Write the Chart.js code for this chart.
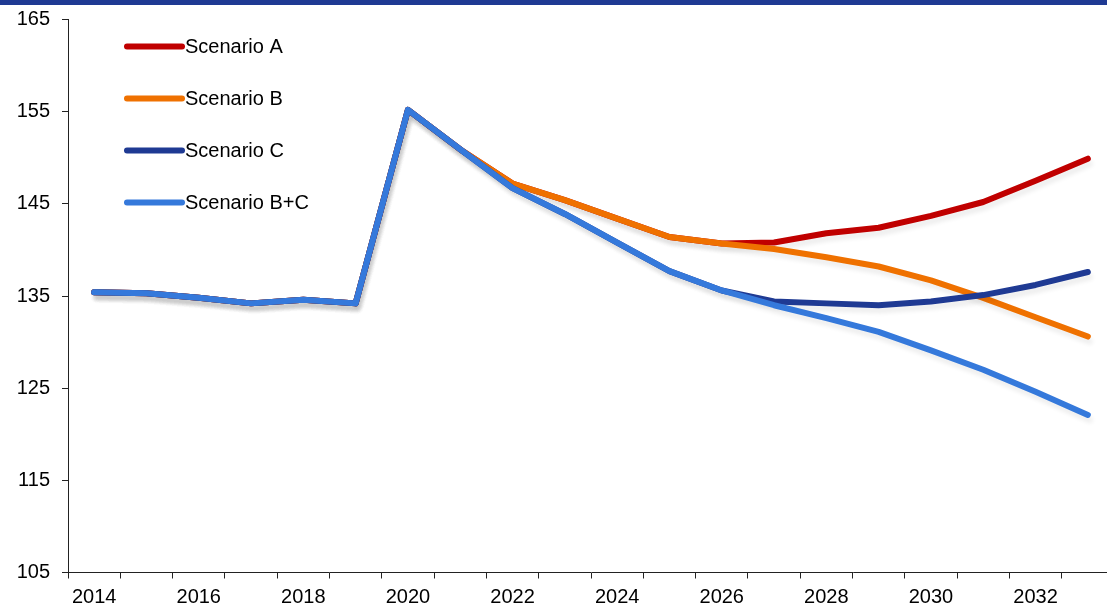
<!DOCTYPE html>
<html>
<head>
<meta charset="utf-8">
<script src="https://cdn.jsdelivr.net/npm/chart.js@4.4.1/dist/chart.umd.min.js"></script>
<style>
  html, body { margin: 0; padding: 0; background: #fff; overflow: hidden; }
  #topbar { position: absolute; left: 0; top: 0; width: 1107px; height: 5px; background: #1f3a93; z-index: 2; }
  #wrap { position: absolute; left: 0; top: 0; width: 1114px; height: 607px; }
</style>
</head>
<body>
<div id="topbar"></div>
<div id="wrap"><canvas id="myChart"></canvas></div>
<script>
const years = ["2014", "2015", "2016", "2017", "2018", "2019", "2020", "2021", "2022", "2023",
  "2024", "2025", "2026", "2027", "2028", "2029", "2030", "2031", "2032", "2033"];

// history shared by every scenario (2014-2021)
const history = [135.4, 135.3, 134.8, 134.2, 134.6, 134.2, 155.2, 150.9];

// projections 2022-2033
const scenarioA = [147.2, 145.4, 143.4, 141.4, 140.7, 140.8, 141.8, 142.4, 143.7, 145.2, 147.5, 149.9];
const scenarioB = [147.2, 145.4, 143.4, 141.4, 140.7, 140.1, 139.2, 138.2, 136.7, 134.8, 132.7, 130.6];
const scenarioC = [146.7, 143.9, 140.8, 137.7, 135.6, 134.4, 134.2, 134.0, 134.4, 135.1, 136.2, 137.6];
const scenarioBC = [146.7, 143.9, 140.8, 137.7, 135.6, 134.0, 132.6, 131.1, 129.1, 127.0, 124.6, 122.1];

const yTicks = [105, 115, 125, 135, 145, 155, 165];

const FONT = "'Liberation Sans', Arial, sans-serif";

// order: lower numbers are painted last (on top)
function series(label, values, color, order) {
  return {
    label: label,
    data: history.concat(values),
    borderColor: color,
    backgroundColor: color,
    borderWidth: 6,
    borderCapStyle: "round",
    borderJoinStyle: "round",
    pointRadius: 0,
    tension: 0,
    order: order,
  };
}

// light drop shadow under the lines
const lineShadow = {
  id: "lineShadow",
  beforeDatasetsDraw(chart) {
    const c = chart.ctx;
    c.save();
    c.shadowColor = "rgba(0,0,0,0.07)";
    c.shadowBlur = 4;
    c.shadowOffsetX = 2;
    c.shadowOffsetY = 5;
  },
  afterDatasetsDraw(chart) {
    chart.ctx.restore();
  },
};

// stacked legend drawn inside the plot
const sideLegend = {
  id: "sideLegend",
  afterDraw(chart) {
    const c = chart.ctx;
    const left = chart.chartArea.left + 59;
    let y = 46.5;
    c.save();
    chart.data.datasets.forEach((ds) => {
      c.beginPath();
      c.lineCap = "round";
      c.lineWidth = 6;
      c.strokeStyle = ds.borderColor;
      c.moveTo(left, y);
      c.lineTo(left + 55, y);
      c.stroke();
      c.fillStyle = "#000";
      c.font = "20px " + FONT;
      c.textAlign = "left";
      c.textBaseline = "middle";
      c.fillText(ds.label, left + 58, y + 1);
      y += 52;
    });
    c.restore();
  },
};

const ctx = document.getElementById("myChart");

new Chart(ctx, {
  type: "line",
  data: {
    labels: years,
    datasets: [
      series("Scenario A", scenarioA, "#c00000", 3),
      series("Scenario B", scenarioB, "#ef7100", 2),
      series("Scenario C", scenarioC, "#1f3a93", 1),
      series("Scenario B+C", scenarioBC, "#3579db", 0),
    ],
  },
  options: {
    responsive: true,
    maintainAspectRatio: false,
    animation: false,
    layout: { padding: { top: 10, right: 0, bottom: 0, left: 0 } },
    plugins: {
      legend: { display: false },
      tooltip: { enabled: false },
    },
    scales: {
      x: {
        offset: true,
        grid: {
          offset: true,
          drawOnChartArea: false,
          drawTicks: true,
          tickLength: 6,
          color: "#222",
        },
        border: { color: "#222", width: 1 },
        ticks: {
          autoSkip: false,
          maxRotation: 0,
          padding: 7,
          color: "#000",
          font: { family: FONT, size: 20 },
          callback: (value, index) => (index % 2 === 0 ? years[index] : ""),
        },
        afterFit: (scale) => { scale.height = 34.5; },
      },
      y: {
        min: 105,
        max: 165,
        afterBuildTicks: (scale) => { scale.ticks = yTicks.map((v) => ({ value: v })); },
        grid: {
          drawOnChartArea: false,
          drawTicks: true,
          tickLength: 6,
          color: "#222",
        },
        border: { color: "#222", width: 1 },
        ticks: {
          padding: 12,
          color: "#000",
          // tight line height keeps the top label from pushing the plot down
          font: { family: FONT, size: 20, lineHeight: 0.75 },
        },
        afterFit: (scale) => { scale.width = 68; },
      },
    },
  },
  plugins: [lineShadow, sideLegend],
});
</script>
</body>
</html>
